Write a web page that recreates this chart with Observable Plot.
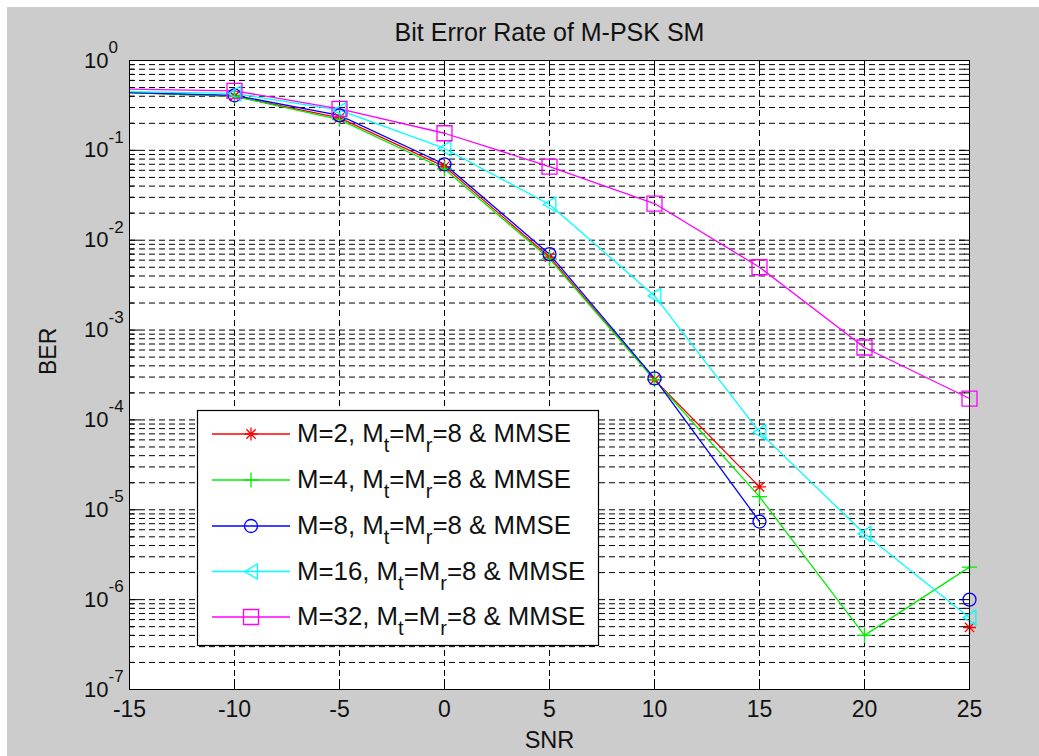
<!DOCTYPE html>
<html>
<head>
<meta charset="utf-8">
<script src="https://cdn.jsdelivr.net/npm/d3@7"></script>
<script src="https://cdn.jsdelivr.net/npm/@observablehq/plot@0.6"></script>
<style>
  html, body { margin: 0; padding: 0; background: #ffffff; width: 1039px; height: 756px; overflow: hidden; }
  #bg { position: absolute; left: 7px; top: 7px; width: 1032px; height: 749px; background: #cccccc; }
  #chart { position: absolute; left: 0; top: 0; }
</style>
</head>
<body>
<div id="bg"></div>
<div id="chart"></div>
<script>
// ---- data ----
const snr = [-15, -10, -5, 0, 5, 10, 15, 20, 25];
const berM2  = [0.44, 0.40, 0.23, 0.066, 0.0065, 2.8e-4, 1.8e-5, null, 4.9e-7];
const berM4  = [0.44, 0.40, 0.22, 0.062, 0.0062, 2.8e-4, 1.4e-5, 4.0e-7, 2.3e-6];
const berM8  = [0.44, 0.41, 0.245, 0.070, 0.0070, 2.9e-4, 7.4e-6, null, 1.0e-6];
const berM16 = [0.45, 0.43, 0.28, 0.105, 0.025, 0.0024, 7.3e-5, 5.4e-6, 6.3e-7];
const berM32 = [0.48, 0.46, 0.29, 0.155, 0.066, 0.0256, 0.0050, 6.4e-4, 1.73e-4];
const seriesNames = ["M=2", "M=4", "M=8", "M=16", "M=32"];
const xTicks = [-15, -10, -5, 0, 5, 10, 15, 20, 25];
const yDecades = [1e-7, 1e-6, 1e-5, 1e-4, 1e-3, 1e-2, 1e-1, 1];
const titleText = "Bit Error Rate of M-PSK SM";
const xLabel = "SNR";
const yLabel = "BER";

// ---- symbols (MATLAB-like markers) ----
const R = s => Math.sqrt(s / Math.PI);
const symStar = {draw(c, s) { const r = R(s), d = r * 0.72;
  c.moveTo(-r, 0); c.lineTo(r, 0); c.moveTo(0, -r); c.lineTo(0, r);
  c.moveTo(-d, -d); c.lineTo(d, d); c.moveTo(-d, d); c.lineTo(d, -d); }};
const symPlus = {draw(c, s) { const r = R(s);
  c.moveTo(-r, 0); c.lineTo(r, 0); c.moveTo(0, -r); c.lineTo(0, r); }};
const symCircle = {draw(c, s) { const r = R(s); c.moveTo(r, 0); c.arc(0, 0, r, 0, 2 * Math.PI); c.closePath(); }};
const symLeftTri = {draw(c, s) { const r = R(s);
  c.moveTo(-r * 0.85, 0); c.lineTo(r * 0.85, -r); c.lineTo(r * 0.85, r); c.closePath(); }};
const symSquare = {draw(c, s) { const r = R(s); c.rect(-r, -r, 2 * r, 2 * r); }};

const series = [
  {name: seriesNames[0], values: berM2,  color: "#ff0000", symbol: symStar,    r: 6.5},
  {name: seriesNames[1], values: berM4,  color: "#00ee00", symbol: symPlus,    r: 7.5},
  {name: seriesNames[2], values: berM8,  color: "#0000ff", symbol: symCircle,  r: 6.5},
  {name: seriesNames[3], values: berM16, color: "#00ffff", symbol: symLeftTri, r: 7.5},
  {name: seriesNames[4], values: berM32, color: "#ff00ff", symbol: symSquare,  r: 7.5}
];

const W = 1039, H = 756, ML = 129, MR = 70, MT = 60, MB = 67;
const PW = W - ML - MR, PH = H - MT - MB;
const yMinor = yDecades.slice(0, -1).flatMap(d => [2, 3, 4, 5, 6, 7, 8, 9].map(k => k * d));
const dash = "6,4";
const font = "'Liberation Sans', Arial, Helvetica, sans-serif";

const marks = [
  Plot.frame({fill: "white"}),
  Plot.ruleY(yMinor, {y: d => d, stroke: "#000", strokeDasharray: dash, strokeWidth: 1}),
  Plot.ruleY(yDecades, {y: d => d, stroke: "#000", strokeDasharray: dash, strokeWidth: 1}),
  Plot.ruleX(xTicks, {x: d => d, stroke: "#000", strokeDasharray: dash, strokeWidth: 1}),
  // inward ticks
  Plot.ruleX(xTicks, {x: d => d, stroke: "#000", insetTop: PH - 10}),
  Plot.ruleX(xTicks, {x: d => d, stroke: "#000", insetBottom: PH - 10}),
  Plot.ruleY(yDecades, {y: d => d, stroke: "#000", insetRight: PW - 10}),
  Plot.ruleY(yDecades, {y: d => d, stroke: "#000", insetLeft: PW - 10}),
  Plot.ruleY(yMinor, {y: d => d, stroke: "#000", insetRight: PW - 5}),
  Plot.ruleY(yMinor, {y: d => d, stroke: "#000", insetLeft: PW - 5})
];
for (const s of series) {
  const rows = snr.map((x, i) => ({snr: x, ber: s.values[i]}));
  marks.push(Plot.line(rows, {x: "snr", y: "ber", stroke: s.color, strokeWidth: 1.3}));
}
for (const s of series) {
  const rows = snr.map((x, i) => ({snr: x, ber: s.values[i]})).filter(d => d.ber != null && d.snr > -15);
  marks.push(Plot.dot(rows, {x: "snr", y: "ber", symbol: s.symbol, r: s.r, stroke: s.color, fill: "none", strokeWidth: 1.3}));
}
marks.push(
  Plot.frame({stroke: "#000", strokeWidth: 1}),
  // x tick labels
  Plot.text(xTicks, {x: d => d, frameAnchor: "bottom", dy: 20, text: d => String(d), fontSize: 23, fill: "#111", lineAnchor: "middle"}),
  // y tick labels: "10" and exponent
  Plot.text(yDecades, {y: d => d, frameAnchor: "left", dx: -21, textAnchor: "end", text: () => "10", fontSize: 22, fill: "#111", lineAnchor: "middle"}),
  Plot.text(yDecades, {y: d => d, frameAnchor: "left", dx: -21, dy: -13, textAnchor: "start", text: d => String(Math.round(Math.log10(d))), fontSize: 17, fill: "#111", lineAnchor: "middle"}),
  // title and axis labels
  Plot.text([titleText], {frameAnchor: "top", dy: -28, text: d => d, fontSize: 25, fill: "#111", lineAnchor: "middle"}),
  Plot.text([xLabel], {frameAnchor: "bottom", dy: 51, text: d => d, fontSize: 23.5, fill: "#111", lineAnchor: "middle"}),
  Plot.text([yLabel], {frameAnchor: "left", dx: -81, rotate: -90, text: d => d, fontSize: 23, fill: "#111", lineAnchor: "middle"})
);

const svg = Plot.plot({
  width: W, height: H,
  marginLeft: ML, marginRight: MR, marginTop: MT, marginBottom: MB,
  x: {domain: [-15, 25], axis: null},
  y: {type: "log", domain: [1e-7, 1], axis: null},
  style: {background: "transparent", fontFamily: font, overflow: "visible"},
  marks
});
document.getElementById("chart").appendChild(svg);

// ---- legend (inside axes, MATLAB style) ----
const g = d3.select(svg).append("g").attr("font-family", font).attr("text-anchor", "start");
const LX = 197, LY = 410, LW = 401, LH = 235;
g.append("rect").attr("x", LX + 0.5).attr("y", LY + 0.5).attr("width", LW).attr("height", LH)
  .attr("fill", "white").attr("stroke", "#000").attr("stroke-width", 1.2);
const rowY = [434, 480, 526, 571.5, 617];
series.forEach((s, i) => {
  const y = rowY[i];
  g.append("line").attr("x1", 212).attr("x2", 290).attr("y1", y).attr("y2", y)
    .attr("stroke", s.color).attr("stroke-width", 1.3);
  g.append("path").attr("transform", `translate(251,${y})`)
    .attr("d", d3.symbol(s.symbol, Math.PI * s.r * s.r)())
    .attr("fill", "none").attr("stroke", s.color).attr("stroke-width", 1.3);
  const t = g.append("text").attr("x", 297).attr("y", y + 8).attr("font-size", 25.8).attr("fill", "#111");
  t.append("tspan").text(s.name + ", M");
  t.append("tspan").attr("dy", 10).attr("font-size", 20).text("t");
  t.append("tspan").attr("dy", -10).text("=M");
  t.append("tspan").attr("dy", 10).attr("font-size", 20).text("r");
  t.append("tspan").attr("dy", -10).text("=8 & MMSE");
});
</script>
</body>
</html>
